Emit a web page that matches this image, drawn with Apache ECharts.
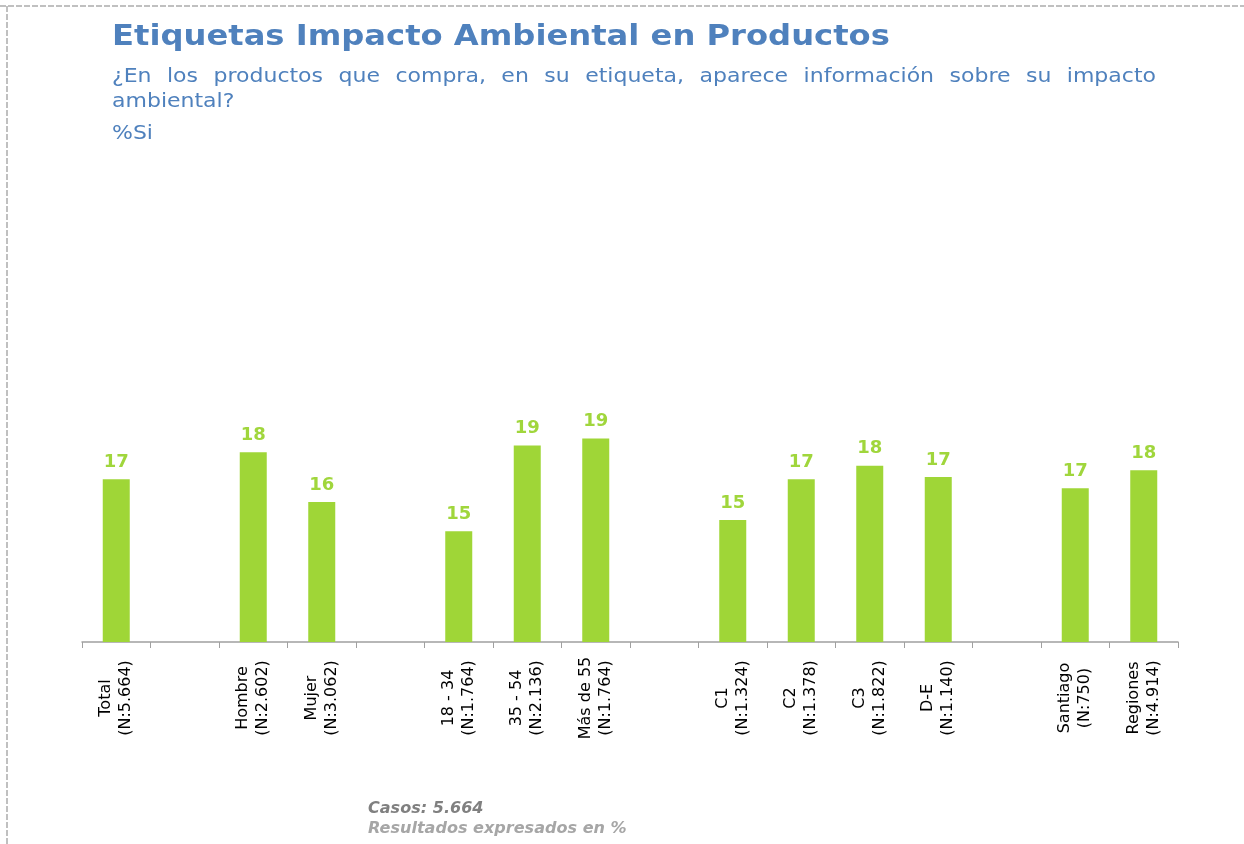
<!DOCTYPE html>
<html>
<head>
<meta charset="utf-8">
<script src="https://cdn.jsdelivr.net/npm/echarts@6/dist/echarts.min.js"></script>
<style>
  html, body { margin: 0; padding: 0; background: #fff; }
  #chart { width: 1244px; height: 844px; }
</style>
</head>
<body>
<div id="chart"></div>
<script>
// categories (blank entries are the gaps between groups)
const categories = [
  'Total\n(N:5.664)', '',
  'Hombre\n(N:2.602)', 'Mujer\n(N:3.062)', ' ',
  '18 - 34\n(N:1.764)', '35 - 54\n(N:2.136)', 'Más de 55\n(N:1.764)', '  ',
  'C1\n(N:1.324)', 'C2\n(N:1.378)', 'C3\n(N:1.822)', 'D-E\n(N:1.140)', '   ',
  'Santiago\n(N:750)', 'Regiones\n(N:4.914)'
];
// % Si
const valores = [
  17.2, '-',
  18.4, 16.2, '-',
  14.9, 18.7, 19.0, '-',
  15.4, 17.2, 17.8, 17.3, '-',
  16.8, 17.6
];

const titulo = 'Etiquetas Impacto Ambiental en Productos';
const pregunta1 = '¿En los productos que compra, en su etiqueta, aparece información sobre su impacto';
const pregunta2 = 'ambiental?';
const subtitulo = '%Si';
const nota1 = 'Casos: 5.664';
const nota2 = 'Resultados expresados en %';

const azul = '#4f81bd';
const verde = '#9fd637';

// wide text (the original font is wider than DejaVu), stretched a bit
function texto(t, x, y, font, fill, sx) {
  return {
    type: 'text', x: x, y: y, scaleX: sx || 1,
    style: { text: t, font: font, fill: fill, verticalAlign: 'top' }
  };
}

// justified first line of the question
function justificar(t, x0, x1, y, font, sx) {
  const ctx = document.createElement('canvas').getContext('2d');
  ctx.font = font;
  const palabras = t.split(' ');
  const anchos = palabras.map(w => ctx.measureText(w).width * sx);
  const total = anchos.reduce((a, b) => a + b, 0);
  const hueco = (x1 - x0 - total) / (palabras.length - 1);
  const out = [];
  let x = x0;
  palabras.forEach((w, i) => {
    out.push(texto(w, x, y, font, azul, sx));
    x += anchos[i] + hueco;
  });
  return out;
}

const fontPregunta = '20px "DejaVu Sans"';

const myChart = echarts.init(document.getElementById('chart'));
const option = {
  animation: false,
  grid: { left: 82, right: 66, top: 190, bottom: 202 },
  xAxis: {
    type: 'category',
    data: categories,
    boundaryGap: true,
    axisLine: { lineStyle: { color: '#a0a0a0', width: 1.5 } },
    axisTick: { show: true, interval: 0, length: 6, lineStyle: { color: '#a0a0a0' } },
    axisLabel: {
      interval: 0,
      rotate: 90,
      align: 'center',
      margin: 56,
      lineHeight: 20,
      fontSize: 16,
      fontFamily: 'DejaVu Sans',
      color: '#000'
    }
  },
  yAxis: {
    type: 'value',
    min: 10,
    max: 30,
    startValue: 10,
    show: false,
    splitLine: { show: false }
  },
  series: [{
    type: 'bar',
    data: valores,
    barWidth: 27,
    clip: true,
    itemStyle: { color: verde },
    label: {
      show: true,
      position: 'top',
      distance: 8,
      color: '#a0d63c',
      fontSize: 18,
      fontWeight: 'bold',
      fontFamily: 'DejaVu Sans',
      formatter: p => Math.round(p.value)
    }
  }],
  graphic: [
    // dashed frame
    { type: 'line', shape: { x1: 0, y1: 6, x2: 1244, y2: 6 },
      style: { stroke: '#c0c0c0', lineWidth: 2, lineDash: [6, 2] } },
    { type: 'line', shape: { x1: 7, y1: 6, x2: 7, y2: 844 },
      style: { stroke: '#c0c0c0', lineWidth: 2, lineDash: [6, 2] } },
    texto(titulo, 112, 24, 'bold 28px "DejaVu Sans"', azul, 1.15),
    ...justificar(pregunta1, 112, 1156, 67, fontPregunta, 1.1),
    texto(pregunta2, 112, 92, fontPregunta, azul, 1.1),
    texto(subtitulo, 112, 124, fontPregunta, azul, 1.1),
    texto(nota1, 368, 802, 'italic bold 15px "DejaVu Sans"', '#808080', 1.07),
    texto(nota2, 368, 822, 'italic bold 15px "DejaVu Sans"', '#a6a6a6', 1.07)
  ]
};
myChart.setOption(option);
</script>
</body>
</html>
